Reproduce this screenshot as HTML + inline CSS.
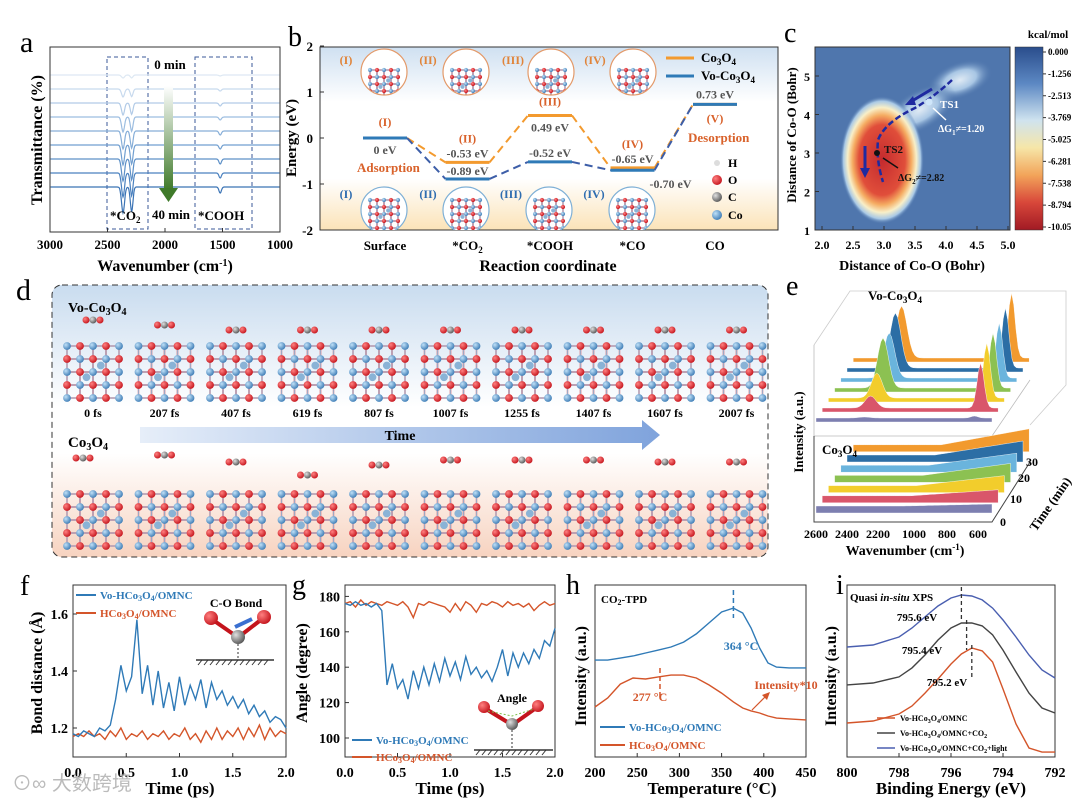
<!DOCTYPE html>
<html><head><meta charset="utf-8">
<style>
html,body{margin:0;padding:0;background:#fff;}
svg{display:block;font-family:"Liberation Serif","Noto Serif CJK SC",serif;}
.t{font-weight:bold;}
</style></head>
<body>
<svg id="fig" width="1080" height="798" viewBox="0 0 1080 798" xmlns="http://www.w3.org/2000/svg">
<defs id="defs">
  <linearGradient id="bgB" x1="0" y1="0" x2="0" y2="1">
    <stop offset="0" stop-color="#cfe0f1"/><stop offset="0.3" stop-color="#ffffff"/><stop offset="0.72" stop-color="#ffffff"/><stop offset="1" stop-color="#fbe3b8"/>
  </linearGradient>
  <linearGradient id="bgD" x1="0" y1="0" x2="0" y2="1">
    <stop offset="0" stop-color="#c9dcef"/><stop offset="0.45" stop-color="#ffffff"/><stop offset="0.62" stop-color="#ffffff"/><stop offset="1" stop-color="#f7d3c0"/>
  </linearGradient>
  <linearGradient id="arrowT" x1="0" y1="0" x2="1" y2="0">
    <stop offset="0" stop-color="#e6eef9"/><stop offset="1" stop-color="#7fa3dc"/>
  </linearGradient>
  <linearGradient id="arrowA" x1="0" y1="0" x2="0" y2="1">
    <stop offset="0" stop-color="#ffffff"/><stop offset="1" stop-color="#3f7a2a"/>
  </linearGradient>
  <linearGradient id="cbar" x1="0" y1="0" x2="0" y2="1">
    <stop offset="0" stop-color="#2a4d8c"/><stop offset="0.2" stop-color="#5c88c3"/><stop offset="0.4" stop-color="#cfe3ef"/><stop offset="0.55" stop-color="#f6e6a8"/><stop offset="0.7" stop-color="#f2a45a"/><stop offset="0.85" stop-color="#d8473a"/><stop offset="1" stop-color="#a11a24"/>
  </linearGradient>
  <radialGradient id="blobR" cx="0.5" cy="0.5" r="0.5">
    <stop offset="0" stop-color="#c42a2e"/><stop offset="0.55" stop-color="#e04e3a"/><stop offset="0.7" stop-color="#f5ac62"/><stop offset="0.82" stop-color="#f8efc8"/><stop offset="0.92" stop-color="#a9c9e6"/><stop offset="1" stop-color="#4f76ad" stop-opacity="0"/>
  </radialGradient>
  <radialGradient id="blobW" cx="0.5" cy="0.5" r="0.5">
    <stop offset="0" stop-color="#dfeaf4"/><stop offset="0.5" stop-color="#a8c6e4"/><stop offset="1" stop-color="#4f76ad" stop-opacity="0"/>
  </radialGradient>
  <radialGradient id="atomO" cx="0.35" cy="0.35" r="0.7"><stop offset="0" stop-color="#ff8080"/><stop offset="1" stop-color="#c4141c"/></radialGradient>
  <radialGradient id="atomCo" cx="0.35" cy="0.35" r="0.7"><stop offset="0" stop-color="#bfe0f7"/><stop offset="1" stop-color="#3c7bb5"/></radialGradient>
  <radialGradient id="atomC" cx="0.35" cy="0.35" r="0.7"><stop offset="0" stop-color="#e0e0e0"/><stop offset="1" stop-color="#555"/></radialGradient>
  <clipPath id="clipC"><rect x="815" y="47" width="195" height="183"/></clipPath>
  <clipPath id="clipBFrame"><rect x="320" y="47" width="458" height="183"/></clipPath>
</defs>

<!-- ======= PANEL A ======= -->
<g id="panelA">
  <text x="20" y="52" font-size="30">a</text>
  <rect x="50" y="47" width="230" height="185" fill="none" stroke="#333" stroke-width="1"/>
  <rect x="107" y="57" width="41" height="172" fill="none" stroke="#3b5a9a" stroke-dasharray="4,3"/>
  <rect x="195" y="57" width="57" height="172" fill="none" stroke="#3b5a9a" stroke-dasharray="4,3"/>
  <g id="aLines"></g>
  <rect x="164" y="86" width="9" height="104" fill="url(#arrowA)"/>
  <polygon points="159,188 178,188 168.5,202" fill="#3f7a2a"/>
  <text x="170" y="69" font-size="13" class="t" text-anchor="middle">0 min</text>
  <text x="171" y="219" font-size="13" class="t" text-anchor="middle">40 min</text>
  <text x="110" y="220" font-size="13" class="t">*CO<tspan font-size="9" dy="3">2</tspan></text>
  <text x="198" y="220" font-size="13" class="t">*COOH</text>
  <g id="aTicks" font-size="13" class="t"></g>
  <text x="165" y="271" font-size="16" class="t" text-anchor="middle">Wavenumber (cm<tspan font-size="10" dy="-5">-1</tspan><tspan dy="5">)</tspan></text>
  <text x="0" y="0" font-size="16" class="t" text-anchor="middle" transform="translate(42,140) rotate(-90)">Transmittance (%)</text>
</g>

<!-- ======= PANEL B ======= -->
<g id="panelB">
  <text x="288" y="46" font-size="28">b</text>
  <rect x="320" y="47" width="458" height="183" fill="url(#bgB)" stroke="#333"/>
  <g id="bStructs" clip-path="url(#clipBFrame)"></g>
  <g id="bLevels"></g>
  <g id="bTicks" font-size="13" class="t"></g>
  <text x="548" y="271" font-size="16" class="t" text-anchor="middle">Reaction coordinate</text>
  <text x="0" y="0" font-size="15" class="t" text-anchor="middle" transform="translate(296,138) rotate(-90)">Energy (eV)</text>
  <line x1="666" y1="58" x2="694" y2="58" stroke="#f39a2e" stroke-width="3"/>
  <text x="701" y="62" font-size="13" class="t">Co<tspan font-size="9" dy="3">3</tspan><tspan dy="-3">O</tspan><tspan font-size="9" dy="3">4</tspan></text>
  <line x1="666" y1="76" x2="694" y2="76" stroke="#2f7ab7" stroke-width="3"/>
  <text x="701" y="80" font-size="13" class="t">Vo-Co<tspan font-size="9" dy="3">3</tspan><tspan dy="-3">O</tspan><tspan font-size="9" dy="3">4</tspan></text>
  <g font-size="12" class="t">
    <circle cx="717" cy="163" r="3" fill="#ddd"/><text x="728" y="167">H</text>
    <circle cx="717" cy="180" r="5" fill="url(#atomO)"/><text x="728" y="184">O</text>
    <circle cx="717" cy="197" r="5" fill="url(#atomC)"/><text x="728" y="201">C</text>
    <circle cx="717" cy="215" r="5" fill="url(#atomCo)"/><text x="728" y="219">Co</text>
  </g>
  <text x="357" y="172" font-size="13" class="t" fill="#d9622b">Adsorption</text>
  <text x="688" y="142" font-size="13" class="t" fill="#d9622b">Desorption</text>
</g>

<!-- ======= PANEL C ======= -->
<g id="panelC">
  <text x="784" y="42" font-size="28">c</text>
  <g clip-path="url(#clipC)">
    <rect x="815" y="47" width="195" height="183" fill="#4f76ad"/>
    <ellipse cx="960" cy="80" rx="34" ry="18" fill="url(#blobW)" transform="rotate(-20 960 80)"/>
    <ellipse cx="920" cy="110" rx="40" ry="20" fill="url(#blobW)" transform="rotate(-30 920 110)"/>
    <ellipse cx="882" cy="160" rx="42" ry="64" fill="url(#blobR)"/>
  </g>
  <rect x="815" y="47" width="195" height="183" fill="none" stroke="#333"/>
  <path d="M952,80 Q935,96 915,108 Q885,122 878,140 Q876,160 883,182" fill="none" stroke="#1f2aa0" stroke-width="2.5" stroke-dasharray="6,3"/>
  <line x1="932" y1="89" x2="912" y2="101" stroke="#1f2aa0" stroke-width="3"/>
  <polygon points="905,105 913,96 916,105" fill="#1f2aa0"/>
  <line x1="865" y1="146" x2="865" y2="170" stroke="#1f2aa0" stroke-width="3"/>
  <polygon points="860,168 870,168 865,178" fill="#1f2aa0"/>
  <circle cx="929" cy="102" r="3.5" fill="#cfe6fa"/>
  <text x="940" y="108" font-size="11" class="t" fill="#fff">TS1</text>
  <line x1="946" y1="120" x2="933" y2="108" stroke="#fff" stroke-width="1.5"/>
  <text x="938" y="132" font-size="10" class="t" fill="#fff">ΔG<tspan font-size="7" dy="3">1</tspan><tspan dy="-3">≠=1.20</tspan></text>
  <circle cx="877" cy="153" r="3" fill="#111"/>
  <text x="884" y="153" font-size="11" class="t" fill="#111">TS2</text>
  <line x1="898" y1="168" x2="883" y2="158" stroke="#111" stroke-width="1.5"/>
  <text x="898" y="181" font-size="10" class="t" fill="#111">ΔG<tspan font-size="7" dy="3">2</tspan><tspan dy="-3">≠=2.82</tspan></text>
  <g id="cTicks" font-size="12" class="t"></g>
  <text x="912" y="270" font-size="14" class="t" text-anchor="middle">Distance of Co-O (Bohr)</text>
  <text x="0" y="0" font-size="13" class="t" text-anchor="middle" transform="translate(796,135) rotate(-90)">Distance of Co-O (Bohr)</text>
  <rect x="1015" y="47" width="28" height="183" fill="url(#cbar)" stroke="#333" stroke-width="0.5"/>
  <text x="1048" y="38" font-size="11" class="t" text-anchor="middle">kcal/mol</text>
  <g id="cbTicks" font-size="9" class="t"></g>
</g>

<!-- ======= PANEL D ======= -->
<g id="panelD">
  <text x="16" y="300" font-size="30">d</text>
  <rect x="52" y="285" width="716" height="272" rx="10" fill="url(#bgD)" stroke="#333" stroke-dasharray="6,4"/>
  <text x="68" y="312" font-size="14" class="t">Vo-Co<tspan font-size="10" dy="3">3</tspan><tspan dy="-3">O</tspan><tspan font-size="10" dy="3">4</tspan></text>
  <text x="68" y="447" font-size="15" class="t">Co<tspan font-size="10" dy="3">3</tspan><tspan dy="-3">O</tspan><tspan font-size="10" dy="3">4</tspan></text>
  <polygon points="140,427 642,427 642,420 660,435 642,450 642,443 140,443" fill="url(#arrowT)"/>
  <text x="400" y="440" font-size="14" class="t" text-anchor="middle">Time</text>
  <g id="dStructs"></g>
</g>

<!-- ======= PANEL E ======= -->
<g id="panelE">
  <text x="786" y="295" font-size="28">e</text>
  <polyline points="814,345 850,291 1066,291 1066,385 1030,425" fill="none" stroke="#ccc" stroke-width="0.8"/>
  <polyline points="814,345 814,436 992,436 1030,380" fill="none" stroke="#bbb" stroke-width="0.8"/>
  <polyline points="814,436 814,522 992,522 1030,462" fill="none" stroke="#444" stroke-width="1"/>
  <g id="eWaves"></g>
  <text x="868" y="300" font-size="13" class="t">Vo-Co<tspan font-size="9" dy="3">3</tspan><tspan dy="-3">O</tspan><tspan font-size="9" dy="3">4</tspan></text>
  <text x="822" y="454" font-size="13" class="t">Co<tspan font-size="9" dy="3">3</tspan><tspan dy="-3">O</tspan><tspan font-size="9" dy="3">4</tspan></text>
  <g font-size="12" class="t">
    <text x="816" y="538" text-anchor="middle">2600</text><text x="847" y="538" text-anchor="middle">2400</text><text x="878" y="538" text-anchor="middle">2200</text><text x="914" y="538" text-anchor="middle">1000</text><text x="947" y="538" text-anchor="middle">800</text><text x="978" y="538" text-anchor="middle">600</text>
  </g>
  <text x="905" y="555" font-size="14" class="t" text-anchor="middle">Wavenumber (cm<tspan font-size="9" dy="-5">-1</tspan><tspan dy="5">)</tspan></text>
  <g font-size="12" class="t">
    <text x="1000" y="526">0</text><text x="1010" y="503">10</text><text x="1018" y="482">20</text><text x="1026" y="466">30</text>
  </g>
  <text x="0" y="0" font-size="13" class="t" transform="translate(1036,532) rotate(-55)">Time (min)</text>
  <text x="0" y="0" font-size="13" class="t" text-anchor="middle" transform="translate(803,432) rotate(-90)">Intensity (a.u.)</text>
</g>

<!-- ======= PANEL F ======= -->
<g id="panelF">
  <text x="20" y="595" font-size="28">f</text>
  <rect x="73" y="585" width="213" height="172" fill="none" stroke="#333"/>
  <g id="fPlot"></g>
  <line x1="76" y1="595" x2="96" y2="595" stroke="#2f7ab7" stroke-width="2"/>
  <text x="100" y="599" font-size="11" class="t" fill="#2f7ab7">Vo-HCo<tspan font-size="8" dy="2">3</tspan><tspan dy="-2">O</tspan><tspan font-size="8" dy="2">4</tspan><tspan dy="-2">/OMNC</tspan></text>
  <line x1="76" y1="613" x2="96" y2="613" stroke="#d4552a" stroke-width="2"/>
  <text x="100" y="617" font-size="11" class="t" fill="#d4552a">HCo<tspan font-size="8" dy="2">3</tspan><tspan dy="-2">O</tspan><tspan font-size="8" dy="2">4</tspan><tspan dy="-2">/OMNC</tspan></text>
  <text x="236" y="607" font-size="12" class="t" text-anchor="middle">C-O Bond</text>
  <g>
    <line x1="213" y1="620" x2="236" y2="636" stroke="#c4141c" stroke-width="4"/><line x1="262" y1="619" x2="240" y2="636" stroke="#c4141c" stroke-width="4"/>
    <circle cx="211" cy="618" r="7" fill="url(#atomO)"/><circle cx="264" cy="617" r="7" fill="url(#atomO)"/><circle cx="238" cy="637" r="7" fill="url(#atomC)"/>
    <line x1="235" y1="627" x2="252" y2="619" stroke="#3a6fd0" stroke-width="4"/>
    <line x1="238" y1="644" x2="238" y2="660" stroke="#333" stroke-dasharray="2,2"/>
    <line x1="196" y1="660" x2="274" y2="660" stroke="#333" stroke-width="1.5"/>
    <path d="M198,665 l4,-5 M204,665 l4,-5 M210,665 l4,-5 M216,665 l4,-5 M222,665 l4,-5 M228,665 l4,-5 M234,665 l4,-5 M240,665 l4,-5 M246,665 l4,-5 M252,665 l4,-5 M258,665 l4,-5 M264,665 l4,-5" stroke="#333"/>
  </g>
  <text x="0" y="0" font-size="16" class="t" text-anchor="middle" transform="translate(42,673) rotate(-90)">Bond distance (Å)</text>
  <text x="180" y="794" font-size="17" class="t" text-anchor="middle">Time (ps)</text>
</g>

<!-- ======= PANEL G ======= -->
<g id="panelG">
  <text x="292" y="594" font-size="28">g</text>
  <rect x="345" y="585" width="210" height="172" fill="none" stroke="#333"/>
  <g id="gPlot"></g>
  <line x1="352" y1="740" x2="372" y2="740" stroke="#2f7ab7" stroke-width="2"/>
  <text x="376" y="744" font-size="11" class="t" fill="#2f7ab7">Vo-HCo<tspan font-size="8" dy="2">3</tspan><tspan dy="-2">O</tspan><tspan font-size="8" dy="2">4</tspan><tspan dy="-2">/OMNC</tspan></text>
  <line x1="352" y1="757" x2="372" y2="757" stroke="#d4552a" stroke-width="2"/>
  <text x="376" y="761" font-size="11" class="t" fill="#d4552a">HCo<tspan font-size="8" dy="2">3</tspan><tspan dy="-2">O</tspan><tspan font-size="8" dy="2">4</tspan><tspan dy="-2">/OMNC</tspan></text>
  <text x="512" y="702" font-size="12" class="t" text-anchor="middle">Angle</text>
  <g>
    <line x1="486" y1="709" x2="509" y2="723" stroke="#c4141c" stroke-width="4"/><line x1="536" y1="708" x2="515" y2="723" stroke="#c4141c" stroke-width="4"/>
    <circle cx="484" cy="707" r="6" fill="url(#atomO)"/><circle cx="538" cy="706" r="6" fill="url(#atomO)"/><circle cx="512" cy="724" r="6" fill="url(#atomC)"/>
    <path d="M488,711 L512,716 L534,709" fill="none" stroke="#7fbf4a" stroke-dasharray="2,2"/>
    <line x1="512" y1="730" x2="512" y2="749" stroke="#333" stroke-dasharray="2,2"/>
    <line x1="474" y1="750" x2="553" y2="750" stroke="#333" stroke-width="1.5"/>
    <path d="M476,755 l4,-5 M482,755 l4,-5 M488,755 l4,-5 M494,755 l4,-5 M500,755 l4,-5 M506,755 l4,-5 M512,755 l4,-5 M518,755 l4,-5 M524,755 l4,-5 M530,755 l4,-5 M536,755 l4,-5 M542,755 l4,-5" stroke="#333"/>
  </g>
  <text x="0" y="0" font-size="16" class="t" text-anchor="middle" transform="translate(307,673) rotate(-90)">Angle (degree)</text>
  <text x="450" y="794" font-size="17" class="t" text-anchor="middle">Time (ps)</text>
</g>

<!-- ======= PANEL H ======= -->
<g id="panelH">
  <text x="566" y="594" font-size="28">h</text>
  <rect x="595" y="585" width="211" height="172" fill="none" stroke="#333"/>
  <g id="hPlot"></g>
  <text x="601" y="603" font-size="11" class="t">CO<tspan font-size="8" dy="2">2</tspan><tspan dy="-2">-TPD</tspan></text>
  <text x="741" y="650" font-size="12" class="t" fill="#2f7ab7" text-anchor="middle">364 °C</text>
  <text x="650" y="701" font-size="12" class="t" fill="#d4552a" text-anchor="middle">277 °C</text>
  <text x="786" y="689" font-size="12" class="t" fill="#d4552a" text-anchor="middle">Intensity*10</text>
  <line x1="752" y1="710" x2="766" y2="696" stroke="#d4552a" stroke-width="1.2"/>
  <polygon points="770,692 762,695 767,700" fill="#d4552a"/>
  <line x1="600" y1="727" x2="625" y2="727" stroke="#2f7ab7" stroke-width="2"/>
  <text x="629" y="731" font-size="11" class="t" fill="#2f7ab7">Vo-HCo<tspan font-size="8" dy="2">3</tspan><tspan dy="-2">O</tspan><tspan font-size="8" dy="2">4</tspan><tspan dy="-2">/OMNC</tspan></text>
  <line x1="600" y1="745" x2="625" y2="745" stroke="#d4552a" stroke-width="2"/>
  <text x="629" y="749" font-size="11" class="t" fill="#d4552a">HCo<tspan font-size="8" dy="2">3</tspan><tspan dy="-2">O</tspan><tspan font-size="8" dy="2">4</tspan><tspan dy="-2">/OMNC</tspan></text>
  <text x="0" y="0" font-size="16" class="t" text-anchor="middle" transform="translate(586,676) rotate(-90)">Intensity (a.u.)</text>
  <text x="712" y="794" font-size="17" class="t" text-anchor="middle">Temperature (°C)</text>
</g>

<!-- ======= PANEL I ======= -->
<g id="panelI">
  <text x="836" y="594" font-size="28">i</text>
  <rect x="847" y="585" width="208" height="172" fill="none" stroke="#333"/>
  <g id="iPlot"></g>
  <text x="850" y="601" font-size="11" class="t">Quasi <tspan font-style="italic">in-situ</tspan> XPS</text>
  <text x="917" y="621" font-size="11" class="t" text-anchor="middle">795.6 eV</text>
  <text x="922" y="654" font-size="11" class="t" text-anchor="middle">795.4 eV</text>
  <text x="947" y="686" font-size="11" class="t" text-anchor="middle">795.2 eV</text>
  <g font-size="8" class="t">
    <line x1="877" y1="718" x2="895" y2="718" stroke="#d4552a" stroke-width="1.5"/><text x="900" y="721">Vo-HCo<tspan font-size="6" dy="2">3</tspan><tspan dy="-2">O</tspan><tspan font-size="6" dy="2">4</tspan><tspan dy="-2">/OMNC</tspan></text>
    <line x1="877" y1="733" x2="895" y2="733" stroke="#444" stroke-width="1.5"/><text x="900" y="736">Vo-HCo<tspan font-size="6" dy="2">3</tspan><tspan dy="-2">O</tspan><tspan font-size="6" dy="2">4</tspan><tspan dy="-2">/OMNC+CO</tspan><tspan font-size="6" dy="2">2</tspan></text>
    <line x1="877" y1="748" x2="895" y2="748" stroke="#4a5fb0" stroke-width="1.5"/><text x="900" y="751">Vo-HCo<tspan font-size="6" dy="2">3</tspan><tspan dy="-2">O</tspan><tspan font-size="6" dy="2">4</tspan><tspan dy="-2">/OMNC+CO</tspan><tspan font-size="6" dy="2">2</tspan><tspan dy="-2">+light</tspan></text>
  </g>
  <text x="0" y="0" font-size="16" class="t" text-anchor="middle" transform="translate(836,676) rotate(-90)">Intensity (a.u.)</text>
  <text x="951" y="794" font-size="17" class="t" text-anchor="middle">Binding Energy (eV)</text>
</g>

<text x="12" y="790" font-size="20" fill="#bbb" font-family="Liberation Sans, Noto Sans CJK SC, sans-serif">⊙∞ 大数跨境</text>
</svg>

<script>
const NS="http://www.w3.org/2000/svg";
function mk(tag,attrs,parent,txt){const e=document.createElementNS(NS,tag);for(const k in attrs)e.setAttribute(k,attrs[k]);if(txt!==undefined)e.textContent=txt;parent.appendChild(e);return e;}
function $(id){return document.getElementById(id);}

// ---------- Panel A data ----------
const aTickVals=[3000,2500,2000,1500,1000];
const aBase=[75,89,103,117,131,145,159,173,187];
const aCo2Depth=[3,8,12,15,18,20,22,24,26];
const aCoohDepth=[1,2,3,3,4,4,5,5,6];
const aColors=["#dde8f3","#c8daee","#b2cbe7","#9cbde0","#86aed8","#719fd0","#5d90c7","#4a81bf","#3a73b5"];
function ax(v){return 50+(3000-v)/2000*230;}
aTickVals.forEach(v=>{const t=mk('text',{x:ax(v),y:249,'text-anchor':'middle'},$('aTicks'),String(v));

mk('line',{x1:ax(v),y1:232,x2:ax(v),y2:228,stroke:'#333'},$('aTicks'));});
aBase.forEach((off,i)=>{
  let d="";
  for(let w=2995;w>=1005;w-=5){
    const g1=Math.exp(-Math.pow((w-2365)/18,2))*aCo2Depth[i];
    const g2=Math.exp(-Math.pow((w-2290)/16,2))*aCo2Depth[i]*0.95;
    const g3=Math.exp(-Math.pow((w-1520)/15,2))*aCoohDepth[i];
    const y=off+g1+g2+g3;
    d+=(d?"L":"M")+ax(w).toFixed(1)+","+y.toFixed(1);
  }
  const p=mk('path',{d:d,fill:'none',stroke:aColors[i],'stroke-width':1.2},$('aLines'));
  
});

// ---------- Panel B data ----------
const bStates=["Surface","*CO2","*COOH","*CO","CO"];
const bCo3o4=[0,-0.53,0.49,-0.65,0.73];
const bVo=[0,-0.89,-0.52,-0.70,0.73];
const bTicks=[2,1,0,-1,-2];
function by(v){return 138-v*46;}
function bx(i){return 385+i*82.5;}
bTicks.forEach(v=>{const t=mk('text',{x:313,y:by(v)+5,'text-anchor':'end'},$('bTicks'),String(v));

mk('line',{x1:320,y1:by(v),x2:324,y2:by(v),stroke:'#333'},$('bTicks'));});
bStates.forEach((s,i)=>{const t=mk('text',{x:bx(i),y:250,'text-anchor':'middle','font-size':13},$('bTicks'));
if(s==="*CO2"){t.textContent="*CO";mk('tspan',{'font-size':9,dy:3},t,"2");}else t.textContent=s;
});
function drawLevels(vals,col,dash,name){
  vals.forEach((v,i)=>{
    const l=mk('line',{x1:bx(i)-22,y1:by(v),x2:bx(i)+22,y2:by(v),stroke:col,'stroke-width':3},$('bLevels'));
    
    if(i<vals.length-1){mk('line',{x1:bx(i)+22,y1:by(v),x2:bx(i+1)-22,y2:by(vals[i+1]),stroke:dash,'stroke-width':2,'stroke-dasharray':'8,5'},$('bLevels'));}
  });
}
drawLevels(bCo3o4,"#f39a2e","#f39a2e","co3o4");
drawLevels(bVo,"#2f7ab7","#3d5ea8","vo-co3o4");
const bLabels=[["0 eV",bx(0),by(0)+16,"#555"],["-0.53 eV",bx(1),by(bCo3o4[1])-5,"#555"],["-0.89 eV",bx(1),by(bVo[1])-4,"#555"],
["0.49 eV",bx(2),by(bCo3o4[2])+16,"#555"],["-0.52 eV",bx(2),by(bVo[2])-5,"#555"],["-0.65 eV",bx(3),by(bCo3o4[3])-5,"#555"],
["-0.70 eV",bx(3)+38,by(bVo[3])+18,"#555"],["0.73 eV",bx(4),by(bVo[4])-6,"#555"],
["(I)",bx(0),by(0)-12,"#d9622b"],["(II)",bx(1),by(bCo3o4[1])-20,"#d9622b"],["(III)",bx(2),by(bCo3o4[2])-10,"#d9622b"],["(IV)",bx(3),by(bCo3o4[3])-20,"#d9622b"],["(V)",bx(4),by(bVo[4])+18,"#d9622b"]];
bLabels.forEach(a=>{const t=mk('text',{x:a[1],y:a[2],'text-anchor':'middle','font-size':12,'font-weight':'bold',fill:a[3]},$('bLevels'),a[0]);
});

function cluster(parent,cx,cy,s){
  const g=mk('g',{},parent);
  for(let r=0;r<4;r++)for(let c=0;c<4;c++){
    const x=cx+(c-1.5)*s,y=cy+(r-1.5)*s;
    mk('rect',{x:x-s*0.5,y:y-s*0.5,width:s,height:s,fill:'none',stroke:'#d98a96','stroke-width':1.6},g);
    mk('rect',{x:x-s*0.5,y:y-s*0.5,width:s,height:s,fill:'none',stroke:'#8fb0cf','stroke-width':0.8},g);
  }
  for(let r=0;r<=4;r++)for(let c=0;c<=4;c++){
    const x=cx+(c-2)*s,y=cy+(r-2)*s;
    mk('circle',{cx:x,cy:y,r:s*0.3,fill:(r+c)%2?'url(#atomO)':'url(#atomCo)'},g);
  }
  mk('circle',{cx:cx-s*0.5,cy:cy+s*0.4,r:s*0.3,fill:'#8ab3d6'},g);
  mk('circle',{cx:cx+s*0.6,cy:cy-s*0.5,r:s*0.3,fill:'#8ab3d6'},g);
  return g;
}
const bTopX=[384,466,551,633];
const bBotX=[384,466,549,632];
const bRom=["(I)","(II)","(III)","(IV)"];
bTopX.forEach((x,i)=>{
  const cp=mk('clipPath',{id:'cpt'+i},$('defs'));mk('circle',{cx:x,cy:72,r:23},cp);
  mk('circle',{cx:x,cy:72,r:23,fill:'#fff'},$('bStructs'));
  const c=cluster($('bStructs'),x,84,7);c.setAttribute('clip-path','url(#cpt'+i+')');
  mk('circle',{cx:x,cy:72,r:23,fill:'none',stroke:'#e39a6a','stroke-width':1.2},$('bStructs'));
  mk('text',{x:x-38,y:64,'font-size':12,'font-weight':'bold',fill:'#e0843a','text-anchor':'middle'},$('bStructs'),bRom[i]);
});
bBotX.forEach((x,i)=>{
  const cp=mk('clipPath',{id:'cpb'+i},$('defs'));mk('circle',{cx:x,cy:210,r:23},cp);
  mk('circle',{cx:x,cy:210,r:23,fill:'#fff'},$('bStructs'));
  const c=cluster($('bStructs'),x,214,7);c.setAttribute('clip-path','url(#cpb'+i+')');
  mk('circle',{cx:x,cy:210,r:23,fill:'none',stroke:'#7fb0d6','stroke-width':1.2},$('bStructs'));
  mk('text',{x:x-38,y:198,'font-size':12,'font-weight':'bold',fill:'#2f6db0','text-anchor':'middle'},$('bStructs'),bRom[i]);
});

// ---------- Panel C ----------
const cXTicks=[2.0,2.5,3.0,3.5,4.0,4.5,5.0];
const cYTicks=[1,2,3,4,5];
const cbLabels=["0.000","-1.256","-2.513","-3.769","-5.025","-6.281","-7.538","-8.794","-10.05"];
function cx_(v){return 822+(v-2)/3*186;}
function cy_(v){return 230-(v-1)*38.5;}
cXTicks.forEach(v=>{const t=mk('text',{x:cx_(v),y:249,'text-anchor':'middle'},$('cTicks'),v.toFixed(1));
mk('line',{x1:cx_(v),y1:230,x2:cx_(v),y2:226,stroke:'#333'},$('cTicks'));});
cYTicks.forEach(v=>{const t=mk('text',{x:810,y:cy_(v)+5,'text-anchor':'end'},$('cTicks'),String(v));
mk('line',{x1:815,y1:cy_(v),x2:819,y2:cy_(v),stroke:'#333'},$('cTicks'));});
cbLabels.forEach((l,i)=>{const y=52+i*(175/8);mk('line',{x1:1043,y1:y,x2:1046,y2:y,stroke:'#333'},$('cbTicks'));const t=mk('text',{x:1048,y:y+3},$('cbTicks'),l);});

// ---------- Panel D ----------
const dTimes=["0 fs","207 fs","407 fs","619 fs","807 fs","1007 fs","1255 fs","1407 fs","1607 fs","2007 fs"];
dTimes.forEach((t,i)=>{
  const x=93+i*71.5;
  cluster($('dStructs'),x,372,13);
  cluster($('dStructs'),x,520,13);
  const lab=mk('text',{x:x,y:417,'text-anchor':'middle','font-size':12,'font-weight':'bold'},$('dStructs'),t);
  
  const ay=i===0?320:(i<2?325:330), by2=[458,455,462,475,465,460,460,460,462,462][i];
  const bxo=i===0?-10:0;
  mk('circle',{cx:x-7,cy:ay,r:3.5,fill:'url(#atomO)'},$('dStructs'));mk('circle',{cx:x,cy:ay,r:3.5,fill:'url(#atomC)'},$('dStructs'));mk('circle',{cx:x+7,cy:ay,r:3.5,fill:'url(#atomO)'},$('dStructs'));
  mk('circle',{cx:x-7+bxo,cy:by2,r:3.5,fill:'url(#atomO)'},$('dStructs'));mk('circle',{cx:x+bxo,cy:by2,r:3.5,fill:'url(#atomC)'},$('dStructs'));mk('circle',{cx:x+7+bxo,cy:by2,r:3.5,fill:'url(#atomO)'},$('dStructs'));
});

// ---------- Panel E ----------
const eColors=["#7d7fb0","#d9566a","#f2cd2c","#8cc152","#6ab4dd","#2c6ea5","#f29a2e"];
const eVoPeakA=[1,12,25,50,45,55,52];
const eVoPeakB=[2,45,55,55,55,60,65];
const eCoRise=[2,6,10,12,12,14,16];
for(let k=6;k>=0;k--){
  const c=eColors[k];
  const ox=816+k*6.2, oyTop=422-k*10, oyBot=513-k*10.2;
  const w=176;
  let top=[];
  for(let s=0;s<=80;s++){
    const xx=ox+s*w/80;
    const h=4+eVoPeakA[k]*Math.exp(-Math.pow((s-22)/3.5,2))+eVoPeakB[k]*Math.exp(-Math.pow((s-72)/2.2,2));
    top.push(xx.toFixed(1)+","+(oyTop-h).toFixed(1));
  }
  const p=mk('polygon',{points:ox+","+oyTop+" "+top.join(" ")+" "+(ox+w)+","+oyTop,fill:c,stroke:'#fff','stroke-width':0.4},$('eWaves'));
  
  let bot=[];
  for(let s=0;s<=80;s++){const xx=ox+s*w/80;const h=7+(s>40?eCoRise[k]*(s-40)/40:0);bot.push(xx.toFixed(1)+","+(oyBot-h).toFixed(1));}
  const p2=mk('polygon',{points:ox+","+oyBot+" "+bot.join(" ")+" "+(ox+w)+","+oyBot,fill:c,stroke:'#fff','stroke-width':0.4},$('eWaves'));
  
}

// ---------- Panel F ----------
const fTime=[0,0.05,0.1,0.15,0.2,0.25,0.3,0.35,0.4,0.45,0.5,0.55,0.6,0.65,0.7,0.75,0.8,0.85,0.9,0.95,1.0,1.05,1.1,1.15,1.2,1.25,1.3,1.35,1.4,1.45,1.5,1.55,1.6,1.65,1.7,1.75,1.8,1.85,1.9,1.95,2.0];
const fVo=[1.18,1.17,1.19,1.18,1.17,1.2,1.19,1.21,1.3,1.42,1.33,1.38,1.58,1.32,1.42,1.28,1.4,1.27,1.36,1.26,1.38,1.28,1.35,1.3,1.37,1.27,1.36,1.3,1.33,1.28,1.31,1.27,1.3,1.25,1.28,1.24,1.26,1.22,1.24,1.23,1.2];
const fH=[1.17,1.18,1.17,1.19,1.17,1.18,1.16,1.19,1.17,1.2,1.16,1.18,1.17,1.19,1.16,1.18,1.17,1.19,1.16,1.18,1.17,1.2,1.16,1.18,1.15,1.19,1.16,1.2,1.16,1.19,1.17,1.2,1.16,1.2,1.17,1.21,1.16,1.2,1.17,1.19,1.18];
const fYTicks=[1.2,1.4,1.6];
const fXTicks=[0,0.5,1.0,1.5,2.0];
function fx(v){return 73+v/2*213;}
function fy(v){return 728-(v-1.2)*285;}
function line(parent,xs,ys,X,Y,col,name){let d="";xs.forEach((x,i)=>{d+=(i?"L":"M")+X(x).toFixed(1)+","+Y(ys[i]).toFixed(1);});
const p=mk('path',{d:d,fill:'none',stroke:col,'stroke-width':1.4},parent);return p;}
line($('fPlot'),fTime,fH,fx,fy,"#d4552a","f-series-h");
line($('fPlot'),fTime,fVo,fx,fy,"#2f7ab7","f-series-vo");
fYTicks.forEach(v=>{mk('line',{x1:73,y1:fy(v),x2:77,y2:fy(v),stroke:'#333'},$('fPlot'));const t=mk('text',{x:68,y:fy(v)+5,'text-anchor':'end','font-size':14,'font-weight':'bold'},$('fPlot'),v.toFixed(1));});
fXTicks.forEach(v=>{mk('line',{x1:fx(v),y1:757,x2:fx(v),y2:753,stroke:'#333'},$('fPlot'));const t=mk('text',{x:fx(v),y:777,'text-anchor':'middle','font-size':14,'font-weight':'bold'},$('fPlot'),v.toFixed(1));});

// ---------- Panel G ----------
const gTime=fTime;
const gVo=[176,175,177,175,176,174,176,172,130,142,128,133,122,138,128,140,130,142,132,145,135,143,133,146,136,140,134,138,132,140,150,135,148,140,148,142,150,145,155,152,162];
const gH=[176,177,174,178,175,177,176,175,177,176,175,177,174,168,176,175,177,176,175,174,171,176,172,177,175,171,176,175,177,176,174,177,175,176,174,176,172,175,177,175,176];
const gYTicks=[100,120,140,160,180];
function gx(v){return 345+v/2*210;}
function gy(v){return 738-(v-100)*1.77;}
line($('gPlot'),gTime,gH,gx,gy,"#d4552a","g-series-h");
line($('gPlot'),gTime,gVo,gx,gy,"#2f7ab7","g-series-vo");
gYTicks.forEach(v=>{mk('line',{x1:345,y1:gy(v),x2:349,y2:gy(v),stroke:'#333'},$('gPlot'));const t=mk('text',{x:340,y:gy(v)+5,'text-anchor':'end','font-size':14,'font-weight':'bold'},$('gPlot'),String(v));});
fXTicks.forEach(v=>{mk('line',{x1:gx(v),y1:757,x2:gx(v),y2:753,stroke:'#333'},$('gPlot'));const t=mk('text',{x:gx(v),y:777,'text-anchor':'middle','font-size':14,'font-weight':'bold'},$('gPlot'),v.toFixed(1));});

// ---------- Panel H ----------
const hTemp=[200,215,230,245,260,275,290,305,320,335,350,364,375,385,395,405,415,430,450];
const hVo=[57,57,58.2,59.4,61.2,62.9,64.7,67.6,72.4,78.8,85.3,87.6,84.7,75.9,64.1,55.3,52.9,52.4,52.4];
const hH=[29.4,34.7,42.9,46.5,45.9,47.1,48.2,48.2,46.5,42.4,37.6,32.4,28.8,27.1,25.9,24.1,22.9,22.4,21.8];
const hXTicks=[200,250,300,350,400,450];
function hx(v){return 595+(v-200)/250*211;}
function hy(v){return 757-v*1.7;}
line($('hPlot'),hTemp,hVo,hx,hy,"#2f7ab7","h-series-vo");
line($('hPlot'),hTemp,hH,hx,hy,"#d4552a","h-series-h");
mk('line',{x1:hx(364),y1:590,x2:hx(364),y2:618,stroke:'#2f7ab7','stroke-width':1.5,'stroke-dasharray':'5,3'},$('hPlot'));
mk('line',{x1:hx(277),y1:668,x2:hx(277),y2:700,stroke:'#d4552a','stroke-width':1.5,'stroke-dasharray':'5,3'},$('hPlot'));
hXTicks.forEach(v=>{mk('line',{x1:hx(v),y1:757,x2:hx(v),y2:753,stroke:'#333'},$('hPlot'));const t=mk('text',{x:hx(v),y:777,'text-anchor':'middle','font-size':14,'font-weight':'bold'},$('hPlot'),String(v));});

// ---------- Panel I ----------
const iBE=[800,799,798,797.5,797,796.5,796,795.6,795.2,794.8,794.4,794,793.5,793,792.5,792];
const iRed=[20,21.2,25.3,30,37.6,45.9,54.7,60.6,64.1,62.4,55.9,40,19.4,5.3,2.9,2.9];
const iBlack=[42.4,43.5,47.1,52.4,60,68.8,75.9,78.8,78.8,77.1,71.8,62.9,50,37.6,28.8,25.9];
const iBlue=[64.7,65.9,70.6,75.9,82.4,88.8,93.5,95.3,94.7,92.4,87.6,80.6,70.6,60,51.2,46.5];
const iXTicks=[800,798,796,794,792];
function ix(v){return 847+(800-v)/8*208;}
function iy(v){return 757-v*1.7;}
line($('iPlot'),iBE,iRed,ix,iy,"#d4552a","i-series-vo");
line($('iPlot'),iBE,iBlack,ix,iy,"#444","i-series-co2");
line($('iPlot'),iBE,iBlue,ix,iy,"#4a5fb0","i-series-light");
[[795.6,587,622],[795.4,620,650],[795.2,645,680]].forEach(a=>mk('line',{x1:ix(a[0]),y1:a[1],x2:ix(a[0]),y2:a[2],stroke:'#333','stroke-width':1.3,'stroke-dasharray':'4,3'},$('iPlot')));
iXTicks.forEach(v=>{mk('line',{x1:ix(v),y1:757,x2:ix(v),y2:753,stroke:'#333'},$('iPlot'));const t=mk('text',{x:ix(v),y:777,'text-anchor':'middle','font-size':14,'font-weight':'bold'},$('iPlot'),String(v));});
</script>
</body></html>
